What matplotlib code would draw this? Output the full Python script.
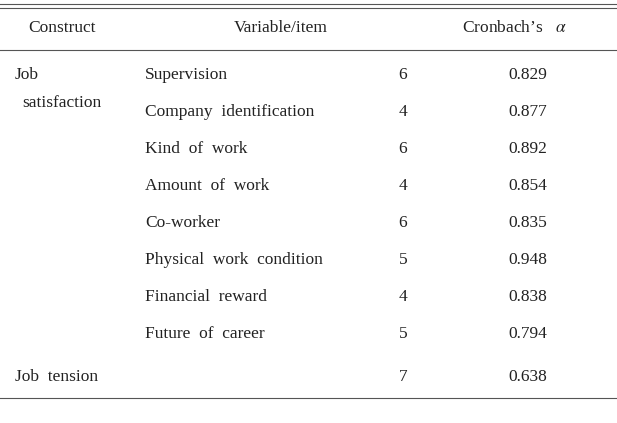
import matplotlib
matplotlib.use("Agg")
import matplotlib.pyplot as plt

headers = ["Construct", "Variable/item", "Cronbach’s   $\\alpha$"]
variables = ["Supervision", "Company  identification", "Kind  of  work", "Amount  of  work",
             "Co-worker", "Physical  work  condition", "Financial  reward", "Future  of  career"]
items = [6, 4, 6, 4, 6, 5, 4, 5]
alphas = ["0.829", "0.877", "0.892", "0.854", "0.835", "0.948", "0.838", "0.794"]
tension_items = 7
tension_alpha = "0.638"

plt.rcParams['font.family'] = ['Liberation Serif', 'DejaVu Serif']
plt.rcParams['mathtext.fontset'] = 'stix'
fig = plt.figure(figsize=(6.17, 4.23), dpi=100)
ax = fig.add_axes([0, 0, 1, 1])
ax.set_xlim(0, 617); ax.set_ylim(423, 0); ax.axis('off')
fs = 12.5
c = '#222222'
ax.plot([0, 617], [4, 4], color='#555', lw=0.8)
ax.plot([0, 617], [8, 8], color='#555', lw=0.8)
ax.plot([0, 617], [50, 50], color='#555', lw=0.8)
ax.plot([0, 617], [398, 398], color='#555', lw=0.8)
ax.text(62, 28, headers[0], ha='center', va='center', fontsize=fs, color=c)
ax.text(281, 28, headers[1], ha='center', va='center', fontsize=fs, color=c)
ax.text(514, 28, headers[2], ha='center', va='center', fontsize=fs, color=c)
ax.text(15, 75, "Job", ha='left', va='center', fontsize=fs, color=c)
ax.text(22, 103, "satisfaction", ha='left', va='center', fontsize=fs, color=c)
y0, dy = 75, 37
for i, (v, n, a) in enumerate(zip(variables, items, alphas)):
    y = y0 + i * dy
    ax.text(145, y, v, ha='left', va='center', fontsize=fs, color=c)
    ax.text(403, y, str(n), ha='center', va='center', fontsize=fs, color=c)
    ax.text(528, y, a, ha='center', va='center', fontsize=fs, color=c)
ax.text(15, 377, "Job  tension", ha='left', va='center', fontsize=fs, color=c)
ax.text(403, 377, str(tension_items), ha='center', va='center', fontsize=fs, color=c)
ax.text(528, 377, tension_alpha, ha='center', va='center', fontsize=fs, color=c)
fig.savefig("out.png", dpi=100)
